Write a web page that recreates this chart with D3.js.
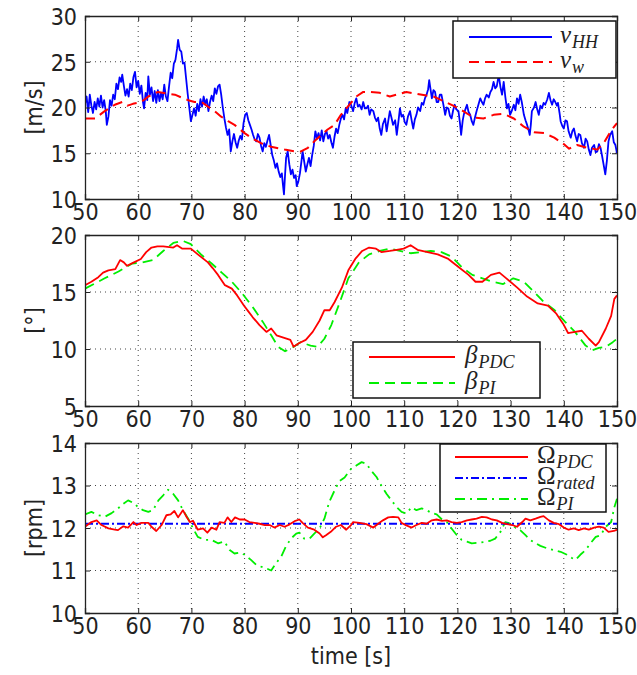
<!DOCTYPE html>
<html lang="en">
<head>
<meta charset="utf-8">
<title>Wind speed, pitch and rotor speed</title>
<script src="https://d3js.org/d3.v7.min.js"></script>
<style>
  body { margin: 0; background: #fff; }
  .lbl { font-family: "DejaVu Sans Condensed", "DejaVu Sans", sans-serif; font-stretch: condensed; font-size: 23px; fill: #222; }
  .leg { font-family: "Liberation Serif", "DejaVu Serif", serif; fill: #222; }
</style>
</head>
<body>
<script>
// ---- data ----
var timeTicks = [50, 60, 70, 80, 90, 100, 110, 120, 130, 140, 150];
var speedTicks = [10, 15, 20, 25, 30];
var pitchTicks = [5, 10, 15, 20];
var rpmTicks = [10, 11, 12, 13, 14];

// hub height wind speed [t, m/s]
var vHH = [[50,20.4],[50.3,21.2],[50.6,19.5],[50.9,21.4],[51.2,20.2],[51.5,19.4],[51.8,20.6],[52.1,19.8],[52.4,21.0],[52.7,20.1],
  [53,21.3],[53.3,20.0],[53.6,20.8],[53.9,19.6],[54.1,18.1],[54.4,19.0],[54.7,20.8],[55,20.2],[55.3,21.4],[55.6,20.9],
  [55.9,22.6],[56.2,22.0],[56.5,23.3],[56.8,22.8],[57,23.6],[57.3,22.4],[57.6,21.3],[57.9,22.0],[58.2,21.2],[58.5,22.6],
  [58.8,21.9],[59.1,23.3],[59.4,23.9],[59.7,22.2],[60,22.9],[60.3,21.5],[60.6,22.4],[60.9,20.6],[61.1,19.9],[61.4,21.6],
  [61.7,20.8],[61.9,23.4],[62.2,21.4],[62.5,22.2],[62.8,20.7],[63.1,21.8],[63.4,20.5],[63.7,21.9],[64,20.7],[64.3,21.6],
  [64.6,20.9],[64.9,22.5],[65.2,21.2],[65.5,20.7],[65.8,22.3],[66.1,23.8],[66.4,23.2],[66.7,24.8],[67,25.2],[67.3,26.4],
  [67.5,27.4],[67.8,26.3],[68.1,26.1],[68.4,24.8],[68.7,24.9],[69,23.2],[69.3,21.5],[69.6,20.0],[69.9,18.5],[70.2,19.2],
  [70.5,19.9],[70.8,19.1],[71.1,20.4],[71.4,19.6],[71.7,20.9],[72,20.1],[72.3,21.2],[72.6,20.4],[72.9,20.9],[73.2,19.6],
  [73.5,20.6],[73.8,21.3],[74.1,20.7],[74.4,22.1],[74.7,21.5],[75,22.3],[75.3,22.5],[75.6,21.4],[75.9,20.0],[76.2,18.8],
  [76.5,17.8],[76.8,17.0],[77.1,17.6],[77.4,15.2],[77.7,16.3],[78,17.1],[78.3,16.2],[78.6,15.6],[78.9,16.4],[79.2,16.9],
  [79.5,16.5],[79.8,18.3],[80.1,19.2],[80.4,19.4],[80.7,18.6],[81,18.1],[81.3,17.6],[81.6,17.0],[81.9,16.5],[82.2,16.3],
  [82.5,17.1],[82.8,16.7],[83.1,15.8],[83.4,15.2],[83.7,16.1],[84,15.7],[84.3,16.4],[84.6,17.0],[84.9,15.9],[85.2,14.8],
  [85.5,14.2],[85.8,13.4],[86.1,13.9],[86.4,13.0],[86.7,12.4],[87,12.8],[87.2,11.6],[87.4,10.5],[87.6,12.6],[87.8,14.5],
  [88.1,15.2],[88.4,13.8],[88.7,12.7],[89,13.2],[89.3,12.3],[89.6,12.6],[89.8,11.4],[90.1,11.9],[90.4,12.8],[90.7,14.2],
  [90.9,15.2],[91.2,14.1],[91.5,13.0],[91.8,13.8],[92.1,14.5],[92.4,13.6],[92.7,14.8],[93,15.8],[93.3,17.4],[93.6,16.6],
  [93.9,17.2],[94.2,16.4],[94.5,17.5],[94.8,16.3],[95.1,17.1],[95.4,17.4],[95.7,16.6],[96,17.0],[96.3,16.2],[96.6,15.6],
  [96.9,16.8],[97.2,17.7],[97.5,17.2],[97.8,18.1],[98.1,18.8],[98.4,19.2],[98.7,18.7],[99,19.9],[99.3,19.4],[99.7,20.6],
  [100,20.3],[100.4,19.6],[100.7,20.5],[101,21.0],[101.3,20.1],[101.6,20.3],[102,19.8],[102.3,20.6],[102.6,19.9],[102.9,19.9],
  [103.2,20.2],[103.5,19.2],[103.8,19.8],[104.2,19.6],[104.5,18.9],[104.8,18.5],[105.1,18.9],[105.4,17.7],[105.7,17.0],[106,18.2],
  [106.4,18.8],[106.7,17.4],[107,18.5],[107.3,19.6],[107.6,18.9],[107.9,18.1],[108.3,18.6],[108.6,17.0],[108.9,18.4],[109.2,19.9],
  [109.5,19.0],[109.8,19.2],[110.1,18.4],[110.4,18.1],[110.7,19.0],[111.1,19.6],[111.4,18.6],[111.7,17.7],[112,18.7],[112.3,19.2],
  [112.6,20.0],[113,19.6],[113.3,20.5],[113.6,20.3],[113.9,21.0],[114.2,21.4],[114.5,22.0],[114.7,23.0],[115,21.8],[115.2,21.0],
  [115.5,21.9],[115.8,21.7],[116.1,20.6],[116.4,20.6],[116.7,21.4],[117,21.4],[117.4,20.2],[117.7,19.2],[118,20.0],[118.3,19.9],
  [118.6,19.1],[118.9,18.8],[119.2,19.7],[119.5,20.3],[119.8,19.8],[120.2,19.6],[120.5,18.2],[120.7,17.0],[121,18.6],[121.2,19.2],
  [121.5,19.8],[121.8,20.3],[122.1,19.5],[122.4,19.2],[122.7,18.5],[123,18.1],[123.3,18.9],[123.6,19.6],[124,20.4],[124.3,21.0],
  [124.6,20.6],[124.9,20.3],[125.2,21.0],[125.5,21.4],[125.9,21.1],[126.2,21.7],[126.5,22.0],[126.8,22.8],[127.1,22.1],[127.4,22.3],
  [127.6,23.0],[127.8,23.4],[128.1,22.2],[128.4,21.4],[128.7,22.8],[129,21.2],[129.3,19.9],[129.6,20.4],[129.9,19.2],[130.2,19.6],
  [130.6,20.3],[130.9,19.7],[131.2,21.0],[131.5,20.4],[131.8,21.4],[132.1,20.6],[132.5,19.2],[132.8,18.6],[133.1,18.1],[133.4,17.5],
  [133.6,17.0],[133.8,18.1],[134,19.6],[134.4,20.0],[134.7,20.6],[135,19.8],[135.3,19.2],[135.6,20.2],[135.9,19.9],[136.2,20.5],
  [136.5,20.3],[136.9,20.9],[137.2,21.6],[137.5,20.8],[137.8,20.3],[138.1,20.9],[138.4,20.6],[138.7,20.2],[138.9,20.5],[139.2,19.4],
  [139.4,18.5],[139.7,18.0],[140,17.7],[140.3,18.6],[140.6,18.5],[140.9,17.4],[141.3,16.7],[141.6,17.4],[141.9,17.7],[142.2,16.9],
  [142.5,16.3],[142.8,17.1],[143.1,17.0],[143.4,16.1],[143.8,15.6],[144.1,16.6],[144.4,16.3],[144.7,15.4],[145,14.8],[145.3,15.6],
  [145.7,15.9],[146,15.1],[146.3,15.2],[146.6,16.0],[146.9,15.6],[147.2,14.7],[147.5,13.7],[147.8,12.7],[148.1,14.2],[148.4,16.3],
  [148.7,17.0],[149.1,17.4],[149.4,16.2],[149.7,15.9],[150,15.0]];

// effective wind speed estimate [t, m/s]
var vW = [[50,18.8],[51.9,18.8],[53.7,19.6],[55.6,20.3],[57,20.6],[58,20.2],[59,20.4],[60.6,20.6],[61.9,21.2],[63.7,21.7],
  [65.6,21.5],[66.9,21.4],[68.1,21.1],[69.4,20.8],[70.6,20.6],[71.9,20.6],[73.1,20.1],[74.4,19.6],[75.6,19.0],[76.9,18.5],
  [78.1,18.1],[80,17.2],[81.2,16.7],[83.1,16.1],[85,15.7],[87.5,15.4],[89.4,15.2],[90.6,15.2],[91.9,15.6],[93.1,16.3],
  [94.4,17.0],[95.6,17.6],[96.9,18.1],[98.1,19.2],[99.4,20.1],[101,21.2],[102.3,21.7],[103.5,21.7],[105.4,21.6],[107.3,21.2],
  [109.2,21.5],[110.4,21.7],[112.3,21.5],[114.2,21.3],[115.5,21.2],[117.4,20.7],[119.2,20.2],[121.1,19.6],[123,18.9],[124.9,18.8],
  [126.8,19.2],[128.7,19.3],[130.6,18.8],[132.5,17.9],[134.4,17.3],[136.3,17.2],[138.2,16.7],[140,16.0],[141,15.5],[142.5,15.9],
  [144.4,15.6],[146.3,15.4],[147.5,16.1],[148.8,17.4],[150,18.3]];

// pitch angle [t, deg]
var betaPDC = [[50,15.6],[51.2,15.9],[52.5,16.3],[53.4,16.7],[54.4,16.9],[55.7,17.0],[56.6,17.8],[57.3,17.6],[57.9,17.3],[59.2,17.6],
  [60.5,17.9],[61.5,18.5],[62.5,18.9],[63.6,19.0],[64.7,19.0],[66.6,18.9],[67.3,19.1],[68.3,18.8],[69.9,18.8],[71.2,18.3],
  [73.1,17.6],[74,17.1],[75,16.5],[76.3,15.6],[77.6,15.3],[78.6,14.7],[79.9,13.8],[80.7,13.3],[81.5,12.8],[82.8,12.1],
  [84.1,11.5],[85,11.8],[86,11.2],[87.3,11.0],[88.6,10.8],[89.2,10.2],[90.2,10.5],[91.5,10.8],[92.8,11.5],[94.1,12.5],
  [95,13.4],[96,13.4],[96.9,14.1],[98.3,15.4],[99.5,16.9],[100.8,17.9],[102.1,18.6],[103.4,18.9],[104.7,18.8],[105.7,18.5],
  [107.3,18.6],[108.6,18.7],[109.9,18.8],[111.2,19.1],[112.5,18.7],[114.4,18.5],[116.3,18.3],[118.3,17.9],[120.2,17.2],[122.1,16.5],
  [123.4,15.9],[124.7,15.9],[126.3,16.5],[127.9,16.7],[129.2,16.2],[131.2,15.4],[133.1,14.6],[135.1,14.0],[137,13.8],[138.6,13.1],
  [139.9,12.2],[140.8,11.4],[142.1,11.5],[143.4,11.6],[144.7,10.9],[146,10.3],[146.6,10.6],[147.9,11.8],[148.9,12.9],[149.5,14.4],[150,14.7]];
var betaPI = [[50,15.3],[53.7,16.2],[56.3,16.8],[58.9,17.5],[60.8,17.6],[62.8,17.8],[64.7,18.6],[66.6,19.3],[68.3,19.5],[69.9,19.2],
  [71.8,18.3],[73.8,17.5],[75.7,16.7],[77.6,15.9],[79.5,14.9],[81.5,13.7],[83.4,12.4],[85,11.2],[86.3,10.2],[87.6,9.8],
  [88.9,10.1],[90.5,10.6],[92.4,10.3],[93.7,10.2],[95,10.9],[96.3,12.1],[97.9,14.1],[99.5,16.2],[101.5,17.6],[103.4,18.3],
  [105.4,18.6],[107.3,18.8],[109.2,18.6],[111.2,18.4],[113.1,18.5],[115,18.6],[117,18.5],[118.9,18.1],[120.8,17.2],[122.8,16.5],
  [124.7,16.2],[126.6,15.9],[128.6,15.7],[130.5,16.2],[132.5,15.9],[134.4,15.0],[136.3,14.1],[138.3,13.4],[140.2,12.4],[142.1,11.5],
  [144.1,10.3],[145.4,9.9],[146.6,10.1],[147.9,10.2],[149.2,10.6],[150,10.9]];

// rotor speed [t, rpm]
var omegaPDC = [[50,12.03],[51.2,12.14],[52.2,12.18],[53.1,12.07],[54.4,11.99],[55.6,11.96],[56.2,11.95],[57.2,12.04],[58.1,12.01],[59.1,12.14],
  [59.7,12.07],[60.6,12.12],[61.9,12.12],[62.5,12.03],[63.4,11.93],[64.4,12.07],[65.3,12.3],[66.1,12.32],[66.8,12.4],[67.5,12.25],
  [68.4,12.42],[69.1,12.26],[69.7,12.14],[70.3,12.17],[71.2,11.96],[72.2,11.99],[73,11.89],[73.8,12.01],[74.7,11.96],[75.3,12.14],
  [76.2,12.12],[76.8,12.25],[77.5,12.14],[78.2,12.25],[79.1,12.2],[80,12.2],[80.9,12.14],[81.9,12.12],[82.8,12.1],[83.8,12.07],
  [84.7,12.07],[85.6,12.01],[86.6,12.07],[87.5,12.03],[88.4,12.08],[89.4,12.16],[90.3,12.2],[90.9,12.12],[91.9,12.01],[93.1,11.96],
  [94.1,11.87],[94.7,11.78],[95.3,11.83],[96.2,11.91],[97.2,12.03],[98.1,12.07],[99.1,11.96],[100,12.07],[100.4,12.14],[101.6,12.12],
  [102.9,12.09],[104.2,12.01],[105.1,12.1],[106,12.18],[107,12.25],[107.9,12.26],[108.9,12.25],[109.5,12.12],[110.4,12.06],[111.4,12.01],
  [112.3,12.07],[113.3,12.12],[114.2,12.1],[115.2,12.18],[116.1,12.2],[117.1,12.17],[118,12.18],[118.9,12.14],[119.9,12.12],[120.8,12.14],
  [121.8,12.18],[122.7,12.2],[123.6,12.22],[124.6,12.26],[125.5,12.25],[126.5,12.2],[127.4,12.18],[128.4,12.12],[129.3,12.09],[130.3,12.07],
  [131.2,12.03],[132.2,12.14],[132.8,12.22],[133.7,12.18],[134.7,12.22],[135.6,12.26],[136.2,12.28],[137.2,12.18],[138.1,12.12],[139.1,12.09],
  [140,12.01],[140.9,11.96],[141.9,11.99],[142.8,11.95],[143.8,11.99],[144.7,11.96],[145.7,12.01],[146.6,12.03],[147.5,12.01],[148.4,11.91],
  [149.4,11.93],[150,11.96]];
var omegaRated = [[50,12.1],[150,12.1]];
var omegaPI = [[50,12.32],[51.2,12.38],[52.5,12.3],[53.8,12.27],[55,12.35],[56.2,12.46],[57.2,12.57],[58.1,12.65],[59.1,12.59],[60,12.49],
  [60.9,12.42],[61.9,12.38],[62.8,12.42],[63.8,12.65],[64.7,12.77],[65.6,12.9],[66.6,12.8],[67.5,12.65],[68.4,12.42],[69.4,12.22],
  [70.3,11.99],[71.2,11.79],[72.5,11.72],[73.8,11.72],[75,11.64],[76.2,11.68],[77.2,11.48],[78.1,11.4],[79.1,11.42],[80,11.37],
  [81.2,11.25],[82.2,11.13],[83.1,11.09],[84.1,11.05],[85,11.0],[85.9,11.17],[86.9,11.33],[87.8,11.58],[88.8,11.76],[89.7,11.87],
  [90.3,11.89],[91.2,11.75],[92.2,11.75],[93.1,11.87],[94.1,11.99],[95,12.22],[95.9,12.61],[96.9,12.88],[97.8,13.1],[98.8,13.19],
  [100,13.39],[101,13.47],[102,13.55],[102.9,13.51],[103.8,13.35],[104.8,13.2],[105.7,13.0],[106.7,12.8],[107.6,12.65],[108.6,12.49],
  [109.5,12.38],[110.4,12.34],[111.4,12.49],[112.3,12.42],[113.3,12.46],[114.2,12.42],[115.2,12.35],[116.1,12.32],[117.1,12.2],[118,12.14],
  [118.9,11.99],[119.9,11.83],[120.8,11.72],[121.8,11.68],[122.7,11.64],[123.6,11.65],[124.9,11.67],[126.2,11.7],[127.1,11.75],[128.1,11.91],
  [129,12.14],[130,12.1],[130.9,12.01],[131.8,11.95],[132.8,11.83],[133.7,11.72],[134.7,11.64],[135.6,11.58],[136.9,11.52],[138.1,11.48],
  [139.4,11.44],[140.6,11.37],[141.6,11.29],[142.2,11.25],[143.1,11.37],[144.1,11.48],[145,11.64],[146,11.79],[146.9,11.83],[147.9,12.03],
  [148.9,12.14],[149.5,12.49],[150,12.69]];

// ---- layout ----
var width = 637, height = 675;
var left = 85, right = 617;

var svg = d3.select("body").append("svg")
    .attr("width", width)
    .attr("height", height);

var x = d3.scaleLinear().domain([50, 150]).range([left, right]);

var panels = [
  { top: 16, bottom: 199, domain: [10, 30], ticks: speedTicks, ylabel: "[m/s]",
    series: [
      { data: vHH, color: "#0000ff", width: 1.8, dash: null },
      { data: vW, color: "#ff0000", width: 2, dash: "10,6" }
    ],
    legend: { x: 453, y: 21, w: 163, h: 57, x1: 469, x2: 552, tx: 560, rows: [37, 62],
      items: [{ main: "v", sub: "HH", mainItalic: true }, { main: "v", sub: "w", mainItalic: true }] } },
  { top: 235, bottom: 406, domain: [5, 20], ticks: pitchTicks, ylabel: "[°]",
    series: [
      { data: betaPI, color: "#00ee00", width: 1.8, dash: "10,6" },
      { data: betaPDC, color: "#ff0000", width: 1.8, dash: null }
    ],
    legend: { x: 353, y: 342, w: 187, h: 56, x1: 369, x2: 455, tx: 465, rows: [357, 383],
      items: [{ main: "β", sub: "PDC", mainItalic: true, s: 1 }, { main: "β", sub: "PI", mainItalic: true, s: 0 }] } },
  { top: 443, bottom: 613, domain: [10, 14], ticks: rpmTicks, ylabel: "[rpm]",
    series: [
      { data: omegaPI, color: "#00ee00", width: 1.8, dash: "10,5,2,5" },
      { data: omegaRated, color: "#0000ff", width: 1.8, dash: "8,3,2,3" },
      { data: omegaPDC, color: "#ff0000", width: 1.8, dash: null }
    ],
    legend: { x: 440, y: 444, w: 166, h: 68, x1: 455, x2: 528, tx: 537, rows: [457, 478, 499],
      items: [{ main: "Ω", sub: "PDC", s: 2 }, { main: "Ω", sub: "rated", s: 1 }, { main: "Ω", sub: "PI", s: 0 }] } }
];

panels.forEach(function(p, i) {
  var y = d3.scaleLinear().domain(p.domain).range([p.bottom, p.top]);
  var g = svg.append("g");

  // dotted grid
  g.selectAll(".gx").data(timeTicks.slice(1, -1)).enter().append("line")
      .attr("x1", function(d) { return x(d); }).attr("x2", function(d) { return x(d); })
      .attr("y1", p.top).attr("y2", p.bottom)
      .attr("stroke", "#444").attr("stroke-width", 1).attr("stroke-dasharray", "1,4");
  g.selectAll(".gy").data(p.ticks.slice(1, -1)).enter().append("line")
      .attr("x1", left).attr("x2", right)
      .attr("y1", function(d) { return y(d); }).attr("y2", function(d) { return y(d); })
      .attr("stroke", "#444").attr("stroke-width", 1).attr("stroke-dasharray", "1,4");

  // data lines
  var clipId = "clip" + i;
  svg.append("clipPath").attr("id", clipId).append("rect")
      .attr("x", left).attr("y", p.top).attr("width", right - left).attr("height", p.bottom - p.top);
  var line = d3.line().x(function(d) { return x(d[0]); }).y(function(d) { return y(d[1]); });
  p.series.forEach(function(s) {
    g.append("path")
        .attr("clip-path", "url(#" + clipId + ")")
        .attr("d", line(s.data))
        .attr("fill", "none")
        .attr("stroke", s.color)
        .attr("stroke-width", s.width)
        .attr("stroke-linejoin", "round")
        .attr("stroke-dasharray", s.dash);
  });

  // axes, ticks pointing inward on all sides
  var xb = d3.axisBottom(x).tickValues(timeTicks).tickSize(-5).tickPadding(7).tickFormat(d3.format("d"));
  var xt = d3.axisTop(x).tickValues(timeTicks).tickSize(-5).tickFormat("");
  var yl = d3.axisLeft(y).tickValues(p.ticks).tickSize(-5).tickPadding(8).tickFormat(d3.format("d"));
  var yr = d3.axisRight(y).tickValues(p.ticks).tickSize(-5).tickFormat("");

  var gxb = g.append("g").attr("transform", "translate(0," + p.bottom + ")").call(xb);
  g.append("g").attr("transform", "translate(0," + p.top + ")").call(xt);
  var gyl = g.append("g").attr("transform", "translate(" + left + ",0)").call(yl);
  g.append("g").attr("transform", "translate(" + right + ",0)").call(yr);

  g.selectAll(".domain").attr("stroke", "#222").attr("stroke-width", 1.3);
  g.selectAll(".tick line").attr("stroke", "#222");
  g.selectAll(".tick text").attr("class", "lbl").attr("fill", "#222").style("font-size", "23px");
  gxb.selectAll(".tick text").attr("dy", "0.6em");
  gyl.selectAll(".tick text").attr("dy", "0.36em");

  g.append("text")
      .attr("class", "lbl")
      .attr("transform", "translate(42," + ((p.top + p.bottom) / 2) + ") rotate(-90)")
      .attr("text-anchor", "middle")
      .text(p.ylabel);

  // legend
  var L = p.legend;
  var lg = g.append("g");
  lg.append("rect").attr("x", L.x).attr("y", L.y).attr("width", L.w).attr("height", L.h)
      .attr("fill", "#fff").attr("stroke", "#111").attr("stroke-width", 1.5);
  L.items.forEach(function(it, k) {
    var s = p.series[it.s !== undefined ? it.s : k];
    lg.append("line")
        .attr("x1", L.x1).attr("x2", L.x2).attr("y1", L.rows[k]).attr("y2", L.rows[k])
        .attr("stroke", s.color).attr("stroke-width", s.width).attr("stroke-dasharray", s.dash);
    var t = lg.append("text").attr("class", "leg").attr("x", L.tx).attr("y", L.rows[k] + 6);
    t.append("tspan").style("font-size", "25px").style("font-style", it.mainItalic ? "italic" : "normal").text(it.main);
    t.append("tspan").attr("dy", 5).attr("dx", 1).style("font-size", "18px").style("font-style", "italic").text(it.sub);
  });
});

svg.append("text")
    .attr("class", "lbl")
    .attr("x", (left + right) / 2)
    .attr("y", 664)
    .attr("text-anchor", "middle")
    .text("time [s]");
</script>
</body>
</html>
